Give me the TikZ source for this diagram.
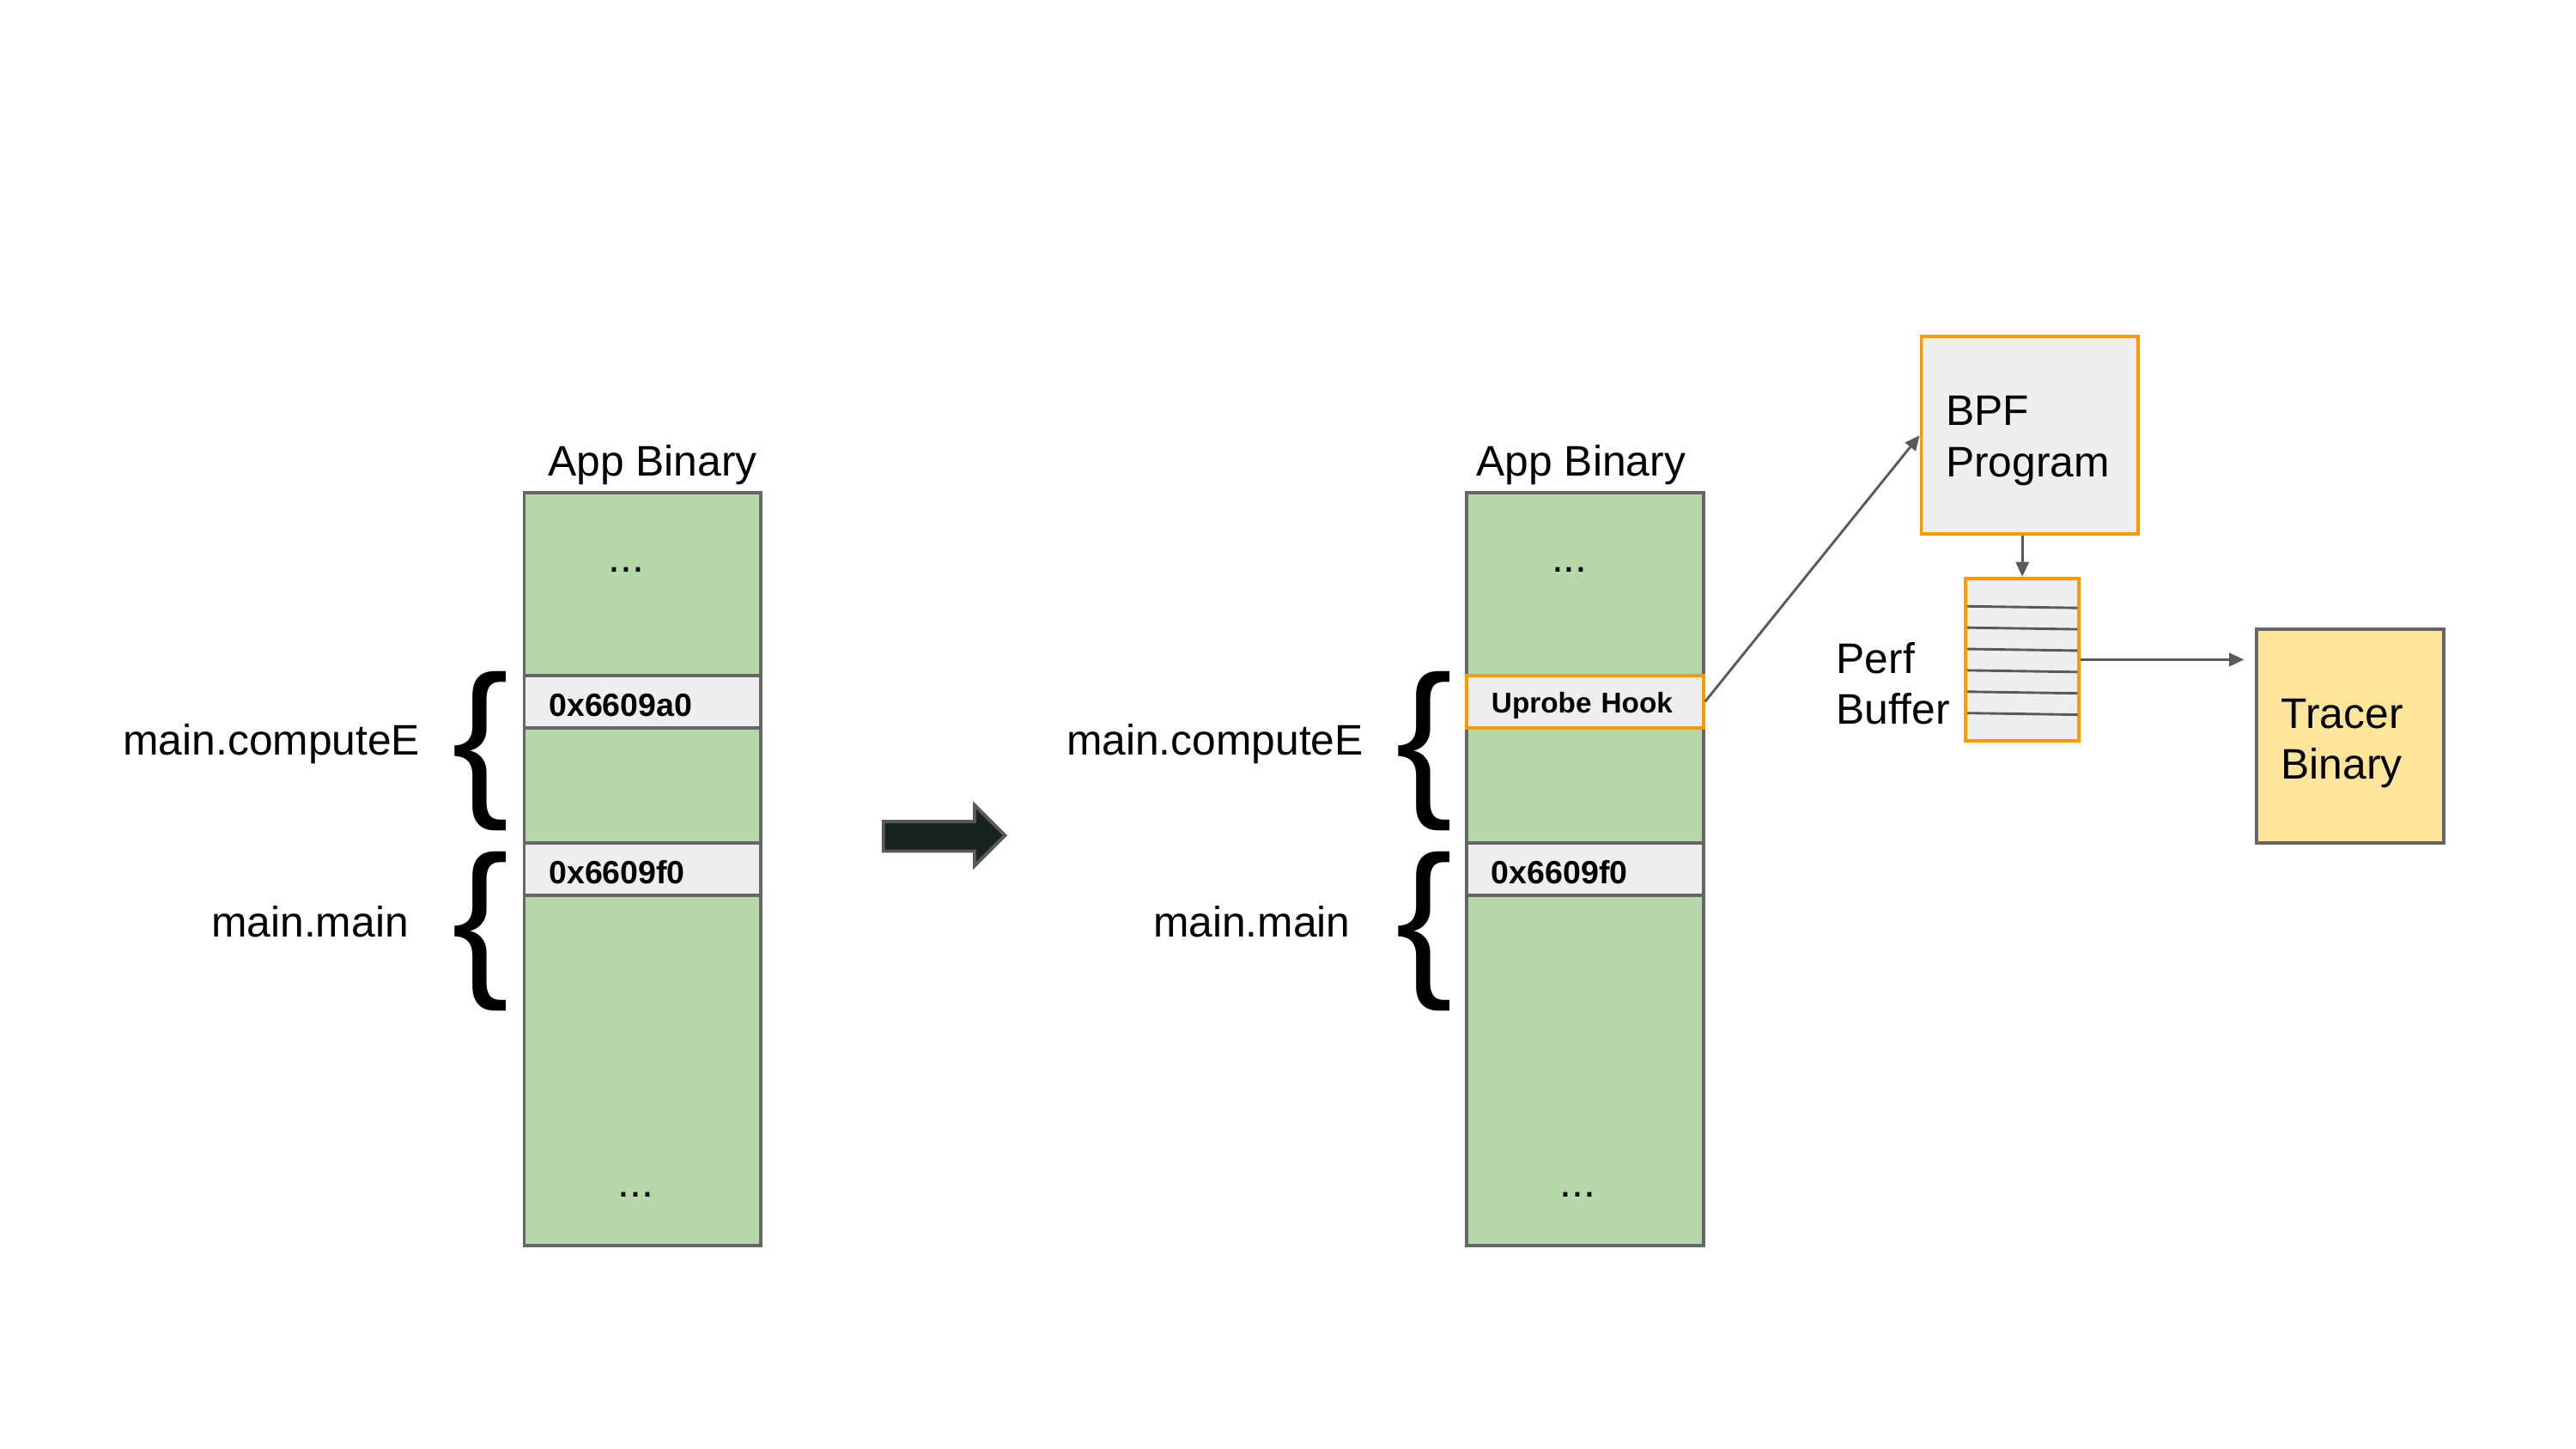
\documentclass[tikz,border=0pt]{standalone}
\usepackage{fontspec}
\setmainfont{Liberation Sans}
\usetikzlibrary{arrows.meta}
\definecolor{memgreen}{HTML}{B6D7A8}
\definecolor{rowgray}{HTML}{EEEEEE}
\definecolor{edgegray}{HTML}{666666}
\definecolor{hookorange}{HTML}{FF9900}
\definecolor{tracerfill}{HTML}{FFE599}
\definecolor{arrowgray}{HTML}{595959}
\definecolor{bigarrowfill}{HTML}{17241E}
\begin{document}
\begin{tikzpicture}[x=0.5pt,y=-0.5pt,
  txt/.style={font=\fontsize{13pt}{15.5pt}\selectfont, inner sep=0pt},
  membox/.style={draw=edgegray, fill=memgreen, line width=1pt, minimum width=72pt, minimum height=229pt, inner sep=0pt},
  rowbox/.style={draw=edgegray, fill=rowgray, line width=1pt, minimum width=72pt, minimum height=16pt, inner ysep=0pt, inner xsep=7.5pt, text width=57pt, align=left, text height=0.9em, text depth=0pt, font=\fontsize{9.8pt}{11pt}\selectfont\bfseries},
  hookbox/.style={rowbox, draw=hookorange, text height=0.72em, text depth=0.04em, font=\fontsize{8.7pt}{10pt}\selectfont\bfseries},
  bracetxt/.style={font=\fontsize{52pt}{60pt}\selectfont, inner sep=0pt},
  conn/.style={draw=arrowgray, line width=0.75pt, -{Triangle[length=4.5pt,width=4pt]}},
  procbox/.style={draw=hookorange, fill=rowgray, line width=1pt, inner xsep=7.5pt, align=left, font=\fontsize{13pt}{15.5pt}\selectfont},
]
\useasboundingbox[fill=white] (0,0) rectangle (1567.4,881.9);

% ---------- left column ----------
\node[txt] (labL) at (397,283) {App Binary};
\node[membox] (memL) at (391,529) {};
\node[rowbox] (a0L) at (391,427) {0x6609a0};
\node[rowbox] (f0L) at (391,529) {0x6609f0};
\node[txt] (dotsL1) at (381,347) {...};
\node[txt] (dotsL2) at (387,727) {...};
\node[bracetxt] (brL1) at (292.5,457) {\{};
\node[bracetxt] (brL2) at (292.5,567) {\{};
\node[txt, anchor=east] (ceL) at (256,453) {main.computeE};
\node[txt, anchor=east] (mmL) at (249,561) {main.main};

% ---------- big arrow ----------
\path[draw=arrowgray, fill=bigarrowfill, line width=1pt, line join=miter]
  (537.5,500) -- (593,500) -- (593,490) -- (611.5,508.5) -- (593,527) -- (593,518) -- (537.5,518) -- cycle;

% ---------- right column ----------
\node[txt] (labR) at (962,283) {App Binary};
\node[membox] (memR) at (964.5,529) {};
\node[hookbox] (hook) at (964.5,427) {Uprobe Hook};
\node[rowbox] (f0R) at (964.5,529) {0x6609f0};
\node[txt] (dotsR1) at (955,347) {...};
\node[txt] (dotsR2) at (960,727) {...};
\node[bracetxt] (brR1) at (866.5,457) {\{};
\node[bracetxt] (brR2) at (866.5,567) {\{};
\node[txt, anchor=east] (ceR) at (830,453) {main.computeE};
\node[txt, anchor=east] (mmR) at (822,561) {main.main};

% ---------- BPF program ----------
\node[procbox, minimum width=66pt, minimum height=60pt, text width=51pt] (bpf) at (1235,265) {\rule{0pt}{12.3pt}BPF\\Program};

% ---------- perf buffer ----------
\node[draw=hookorange, fill=rowgray, line width=1pt, minimum width=34.5pt, minimum height=49.5pt, inner sep=0pt] (perf) at (1230.5,401.5) {};
\foreach \yy in {369,382,395,408,421,434}{
  \draw[arrowgray, line width=0.75pt] (1197,\yy) -- (1264,\yy+1);
}
\node[txt, anchor=west, align=left] (perflab) at (1117,416) {Perf\\Buffer};

% ---------- tracer binary ----------
\node[draw=edgegray, fill=tracerfill, line width=1pt, minimum width=57pt, minimum height=65pt, inner xsep=7.5pt, text width=42pt, align=left, font=\fontsize{13pt}{15.5pt}\selectfont] (tracer) at (1430,448) {\rule{0pt}{13.3pt}Tracer\\Binary};

% ---------- connectors ----------
\draw[conn] (hook.east) -- (bpf.west);
\draw[conn] (bpf.south -| perf.north) -- (perf.north);
\draw[conn, shorten >=3.3pt] (perf.east) -- (perf.east -| tracer.west);
\end{tikzpicture}
\end{document}
